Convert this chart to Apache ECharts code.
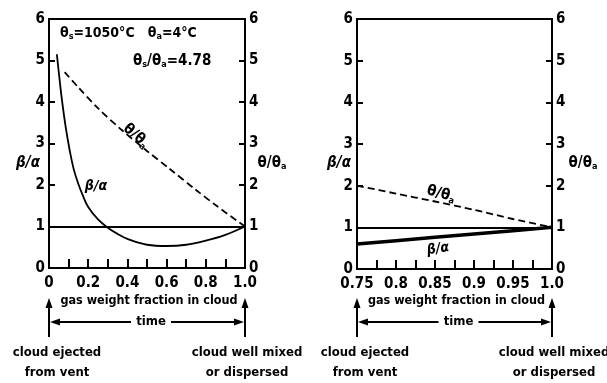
<!DOCTYPE html>
<html>
<head>
<meta charset="utf-8">
<script src="https://cdn.jsdelivr.net/npm/echarts@6/dist/echarts.min.js"></script>
<style>
  html, body { margin: 0; padding: 0; background: #fff; }
  #main { width: 607px; height: 383px; }
</style>
</head>
<body>
<div id="main"></div>
<script>
// left panel: gas weight fraction 0 .. 1
const leftBetaX = [0.04, 0.055, 0.066, 0.085, 0.105, 0.125, 0.148, 0.175, 0.2, 0.25, 0.3, 0.35, 0.4, 0.5, 0.6, 0.7, 0.8, 0.9, 1.0]
const leftBetaY = [5.15, 4.5, 4.05, 3.4, 2.85, 2.4, 2.05, 1.72, 1.47, 1.17, 0.97, 0.82, 0.7, 0.56, 0.53, 0.56, 0.66, 0.8, 1.0]
const leftThetaX = [0.08, 0.15, 0.25, 0.37, 0.5, 0.61, 0.75, 0.86, 1.0]
const leftThetaY = [4.72, 4.35, 3.85, 3.33, 2.82, 2.41, 1.88, 1.48, 1.0]

// right panel: gas weight fraction 0.75 .. 1
const rightThetaX = [0.75, 0.8, 0.85, 0.9, 0.95, 1.0]
const rightThetaY = [2.0, 1.81, 1.62, 1.42, 1.2, 1.0]
const rightBetaX = [0.75, 0.8, 0.85, 0.9, 0.95, 1.0]
const rightBetaY = [0.6, 0.68, 0.76, 0.84, 0.92, 1.0]

const unityLevel = 1
const yTicks = [0, 1, 2, 3, 4, 5, 6]
const leftXLabels = ['0', '0.2', '0.4', '0.6', '0.8', '1.0']
const rightXLabels = ['0.75', '0.8', '0.85', '0.9', '0.95', '1.0']

const FONT = '"DejaVu Sans Condensed", "DejaVu Sans", sans-serif'
const pairs = (xs, ys) => xs.map((x, i) => [x, ys[i]])

function xAxisCfg(gi, min, max, interval, labels) {
  return {
    type: 'value', gridIndex: gi, min, max, interval,
    axisLine: { onZero: false, lineStyle: { color: '#000', width: 2 } },
    axisTick: { inside: true, length: 9, lineStyle: { color: '#000', width: 2 } },
    splitLine: { show: false },
    axisLabel: {
      margin: 8, color: '#000', fontSize: 15, fontWeight: 'bold', fontFamily: FONT,
      showMinLabel: true, showMaxLabel: true,
      formatter: (v) => {
        const k = Math.round((v - min) / interval)
        return k % 2 === 0 ? labels[k / 2] : ''
      },
    },
  }
}

function yAxisCfg(gi, pos) {
  return {
    type: 'value', gridIndex: gi, position: pos, min: 0, max: 6, interval: 1,
    axisLine: { show: true, onZero: false, lineStyle: { color: '#000', width: 2 } },
    axisTick: { show: true, inside: true, length: 6, lineStyle: { color: '#000', width: 2 } },
    splitLine: { show: false },
    axisLabel: {
      margin: 4, color: '#000', fontSize: 15, fontWeight: 'bold', fontFamily: FONT,
      formatter: (v) => String(yTicks[v]),
    },
  }
}

function lineSeries(xi, yi, data, width, dashed, smooth) {
  return {
    type: 'line', xAxisIndex: xi, yAxisIndex: yi, data, smooth,
    symbol: 'none', silent: true, z: 3,
    lineStyle: { color: '#000', width, type: dashed ? [7, 4] : 'solid' },
  }
}

const unityMark = {
  silent: true, symbol: 'none', label: { show: false },
  lineStyle: { color: '#000', width: 1.8, type: 'solid' },
  data: [{ yAxis: unityLevel }],
}

const chart = echarts.init(document.getElementById('main'))

chart.setOption({
  animation: false,
  backgroundColor: '#fff',
  grid: [
    { left: 49, top: 19, width: 196, height: 249, show: true, borderColor: '#000', borderWidth: 2, backgroundColor: 'transparent' },
    { left: 357, top: 19, width: 195, height: 250, show: true, borderColor: '#000', borderWidth: 2, backgroundColor: 'transparent' },
  ],
  xAxis: [
    xAxisCfg(0, 0, 1, 0.1, leftXLabels),
    xAxisCfg(1, 0.75, 1, 0.025, rightXLabels),
  ],
  yAxis: [
    yAxisCfg(0, 'left'), yAxisCfg(0, 'right'),
    yAxisCfg(1, 'left'), yAxisCfg(1, 'right'),
  ],
  series: [
    Object.assign(lineSeries(0, 0, pairs(leftBetaX, leftBetaY), 1.8, false, 0.4), { markLine: unityMark }),
    lineSeries(0, 0, pairs(leftThetaX, leftThetaY), 1.8, true, 0.3),
    Object.assign(lineSeries(1, 2, pairs(rightBetaX, rightBetaY), 3.5, false, false), { markLine: unityMark }),
    lineSeries(1, 2, pairs(rightThetaX, rightThetaY), 1.8, true, 0.3),
  ],
})

// annotations (arrows, captions) placed from the axis ends
const bold = (size) => ({ fontSize: size, fontWeight: 'bold', fontFamily: FONT, fill: '#000' })
const sub = { fontSize: 9, fontWeight: 'bold', fontFamily: FONT, verticalAlign: 'bottom', padding: [8, 0, 0, 0] }

function txt(x, y, text, size, extra) {
  return {
    type: 'text', silent: true,
    style: Object.assign({ x, y, text, align: 'center', verticalAlign: 'middle', rich: { s: sub } }, bold(size), extra || {}),
  }
}

function arrowHead(x, y, dir) {
  const d = { up: [[x, y], [x - 3.5, y + 10], [x + 3.5, y + 10]],
              left: [[x, y], [x + 10, y - 3.5], [x + 10, y + 3.5]],
              right: [[x, y], [x - 10, y - 3.5], [x - 10, y + 3.5]] }[dir]
  return { type: 'polygon', silent: true, shape: { points: d }, style: { fill: '#000' } }
}

function seg(x1, y1, x2, y2, w) {
  return { type: 'line', silent: true, shape: { x1, y1, x2, y2 }, style: { stroke: '#000', lineWidth: w || 2 } }
}

function panelDecor(gi, xMin, xMax) {
  const [x0] = chart.convertToPixel({ gridIndex: gi }, [xMin, 0])
  const [x1] = chart.convertToPixel({ gridIndex: gi }, [xMax, 0])
  const cx = (x0 + x1) / 2 + 4
  const yH = 322
  return [
    txt((x0 + x1) / 2 + 2, 301, 'gas weight fraction in cloud', 12.5),
    seg(x0, 337, x0, 304), arrowHead(x0, 298, 'up'),
    seg(x1, 337, x1, 304), arrowHead(x1, 298, 'up'),
    seg(x0 + 6, yH, cx - 20, yH), arrowHead(x0 + 1, yH, 'left'),
    seg(cx + 20, yH, x1 - 6, yH), arrowHead(x1 - 1, yH, 'right'),
    txt(cx, yH, 'time', 13),
    txt(x0 + 8, 353, 'cloud ejected', 13),
    txt(x0 + 8, 373, 'from vent', 13),
    txt(x1 + 2, 353, 'cloud well mixed', 13),
    txt(x1 + 2, 373, 'or dispersed', 13),
  ]
}

const graphics = [
  ...panelDecor(0, 0, 1),
  ...panelDecor(1, 0.75, 1),
  // axis names
  txt(28, 163, 'β/α', 15, { fontStyle: 'italic' }),
  txt(272, 163, 'θ/θ{s|a}', 15),
  txt(339, 163, 'β/α', 15, { fontStyle: 'italic' }),
  txt(583, 163, 'θ/θ{s|a}', 15),
  // parameter notes
  txt(60, 33, 'θ{s|s}=1050°C   θ{s|a}=4°C', 14, { align: 'left' }),
  txt(133, 61, 'θ{s|s}/θ{s|a}=4.78', 15, { align: 'left' }),
  // curve labels
  Object.assign(txt(0, 0, 'θ/θ{s|a}', 15), { x: 136, y: 136, rotation: -0.72 }),
  txt(96, 186, 'β/α', 14, { fontStyle: 'italic' }),
  Object.assign(txt(0, 0, 'θ/θ{s|a}', 15), { x: 441, y: 194, rotation: -0.26 }),
  Object.assign(txt(0, 0, 'β/α', 14, { fontStyle: 'italic' }), { x: 438, y: 249, rotation: 0.15 }),
]

chart.setOption({ graphic: graphics })
</script>
</body>
</html>
